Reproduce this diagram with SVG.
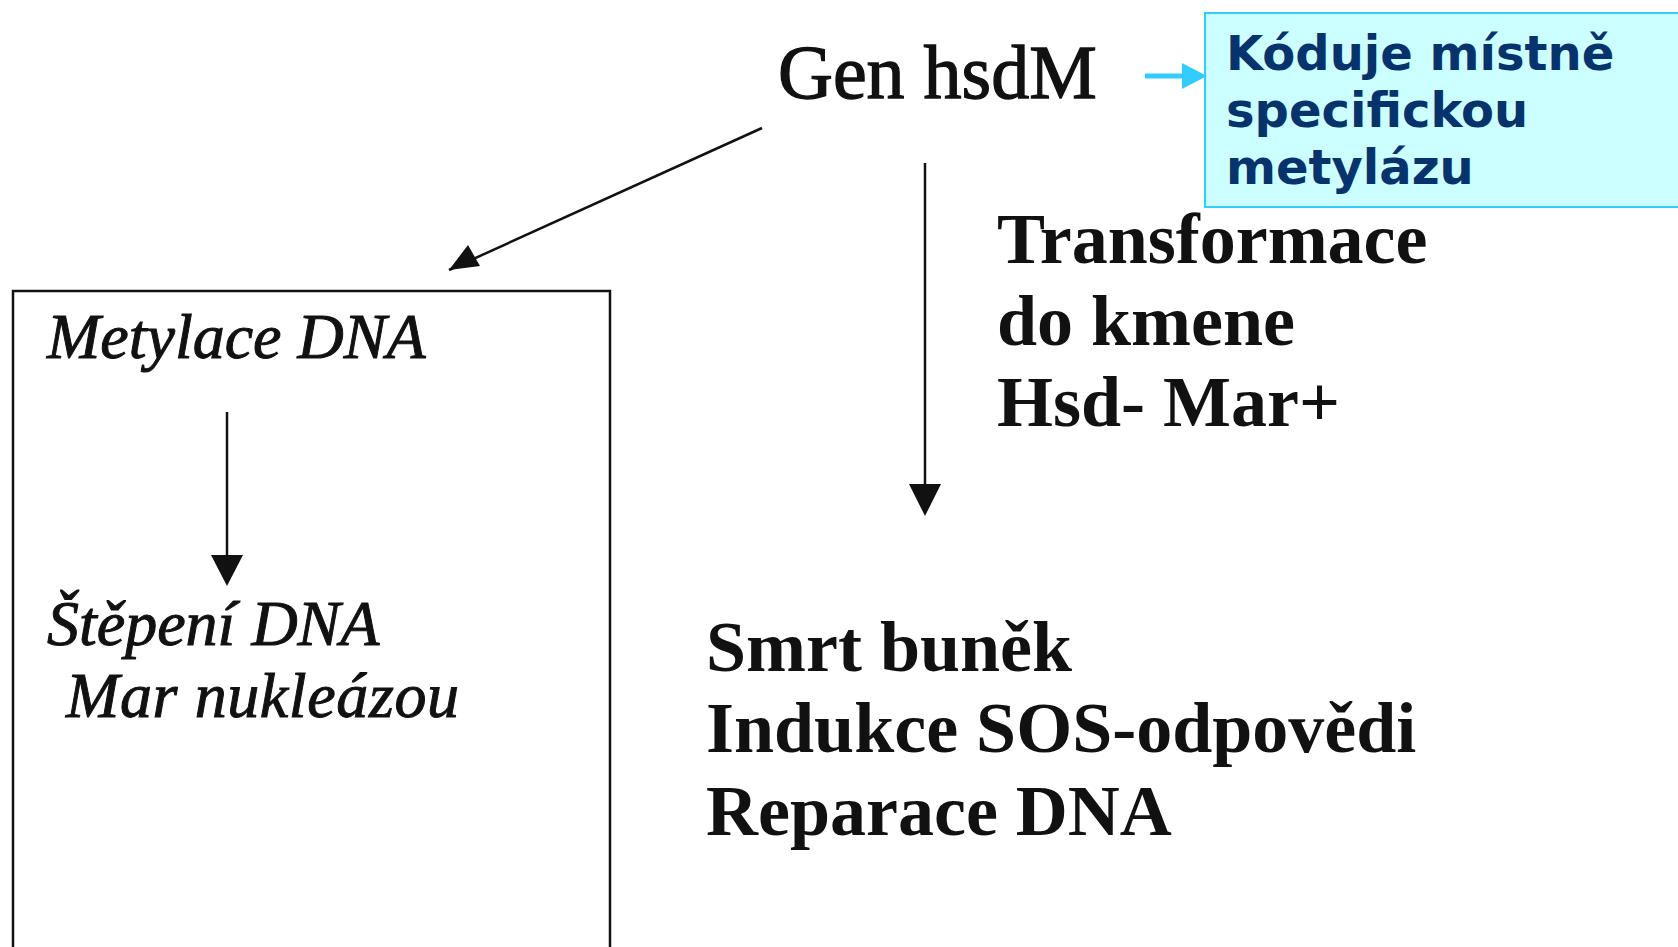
<svg xmlns="http://www.w3.org/2000/svg" width="1678" height="947" viewBox="0 0 1678 947">
<style>
.serif{font-family:"Liberation Serif","Times New Roman",serif;fill:#111}
.b{font-weight:bold;font-size:72px}
.it{font-style:italic;font-size:64px;stroke:#111;stroke-width:1}
.note{font-family:"DejaVu Sans",Verdana,sans-serif;font-weight:bold;font-size:48px;fill:#06336b}
.conn{stroke:#111;stroke-width:2.5;fill:none}
</style>
<rect width="1678" height="947" fill="#fff"/>

<g id="gen">
<text class="serif" x="778" y="98" font-size="76" stroke="#111" stroke-width="1.3">Gen hsdM</text>
</g>

<g id="note">
<rect x="1205" y="13" width="480" height="194" fill="#ccffff" stroke="#33ccff" stroke-width="2"/>
<text class="note" x="1226" y="70">Kóduje místně</text>
<text class="note" x="1226" y="127">specifickou</text>
<text class="note" x="1226" y="184">metylázu</text>
</g>

<g id="box">
<rect x="13" y="291" width="597" height="680" fill="none" stroke="#111" stroke-width="2.5"/>
<text class="serif it" x="47" y="358">Metylace DNA</text>
<text class="serif it" x="47" y="645">Štěpení DNA</text>
<text class="serif it" x="66" y="717" textLength="393">Mar nukleázou</text>
</g>

<g id="transform">
<text class="serif b" x="997" y="263">Transformace</text>
<text class="serif b" x="997" y="345">do kmene</text>
<text class="serif b" x="997" y="426">Hsd- Mar+</text>
</g>

<g id="result">
<text class="serif b" x="706" y="671">Smrt buněk</text>
<text class="serif b" x="706" y="752">Indukce SOS-odpovědi</text>
<text class="serif b" x="706" y="835">Reparace DNA</text>
</g>

<g id="connectors">
<line x1="762" y1="128" x2="449" y2="270" class="conn"/>
<path d="M449,270 L468,245 L480,266 z" fill="#111"/>
<line x1="925" y1="163" x2="925" y2="485" class="conn"/>
<path d="M909,484 L941,484 L925,516 z" fill="#111"/>
<line x1="227" y1="412" x2="227" y2="556" class="conn"/>
<path d="M211,555 L243,555 L227,586 z" fill="#111"/>
<line x1="1145" y1="76" x2="1185" y2="76" stroke="#33ccff" stroke-width="5"/>
<path d="M1182,63 L1207,76 L1182,89 z" fill="#33ccff"/>
</g>
</svg>
